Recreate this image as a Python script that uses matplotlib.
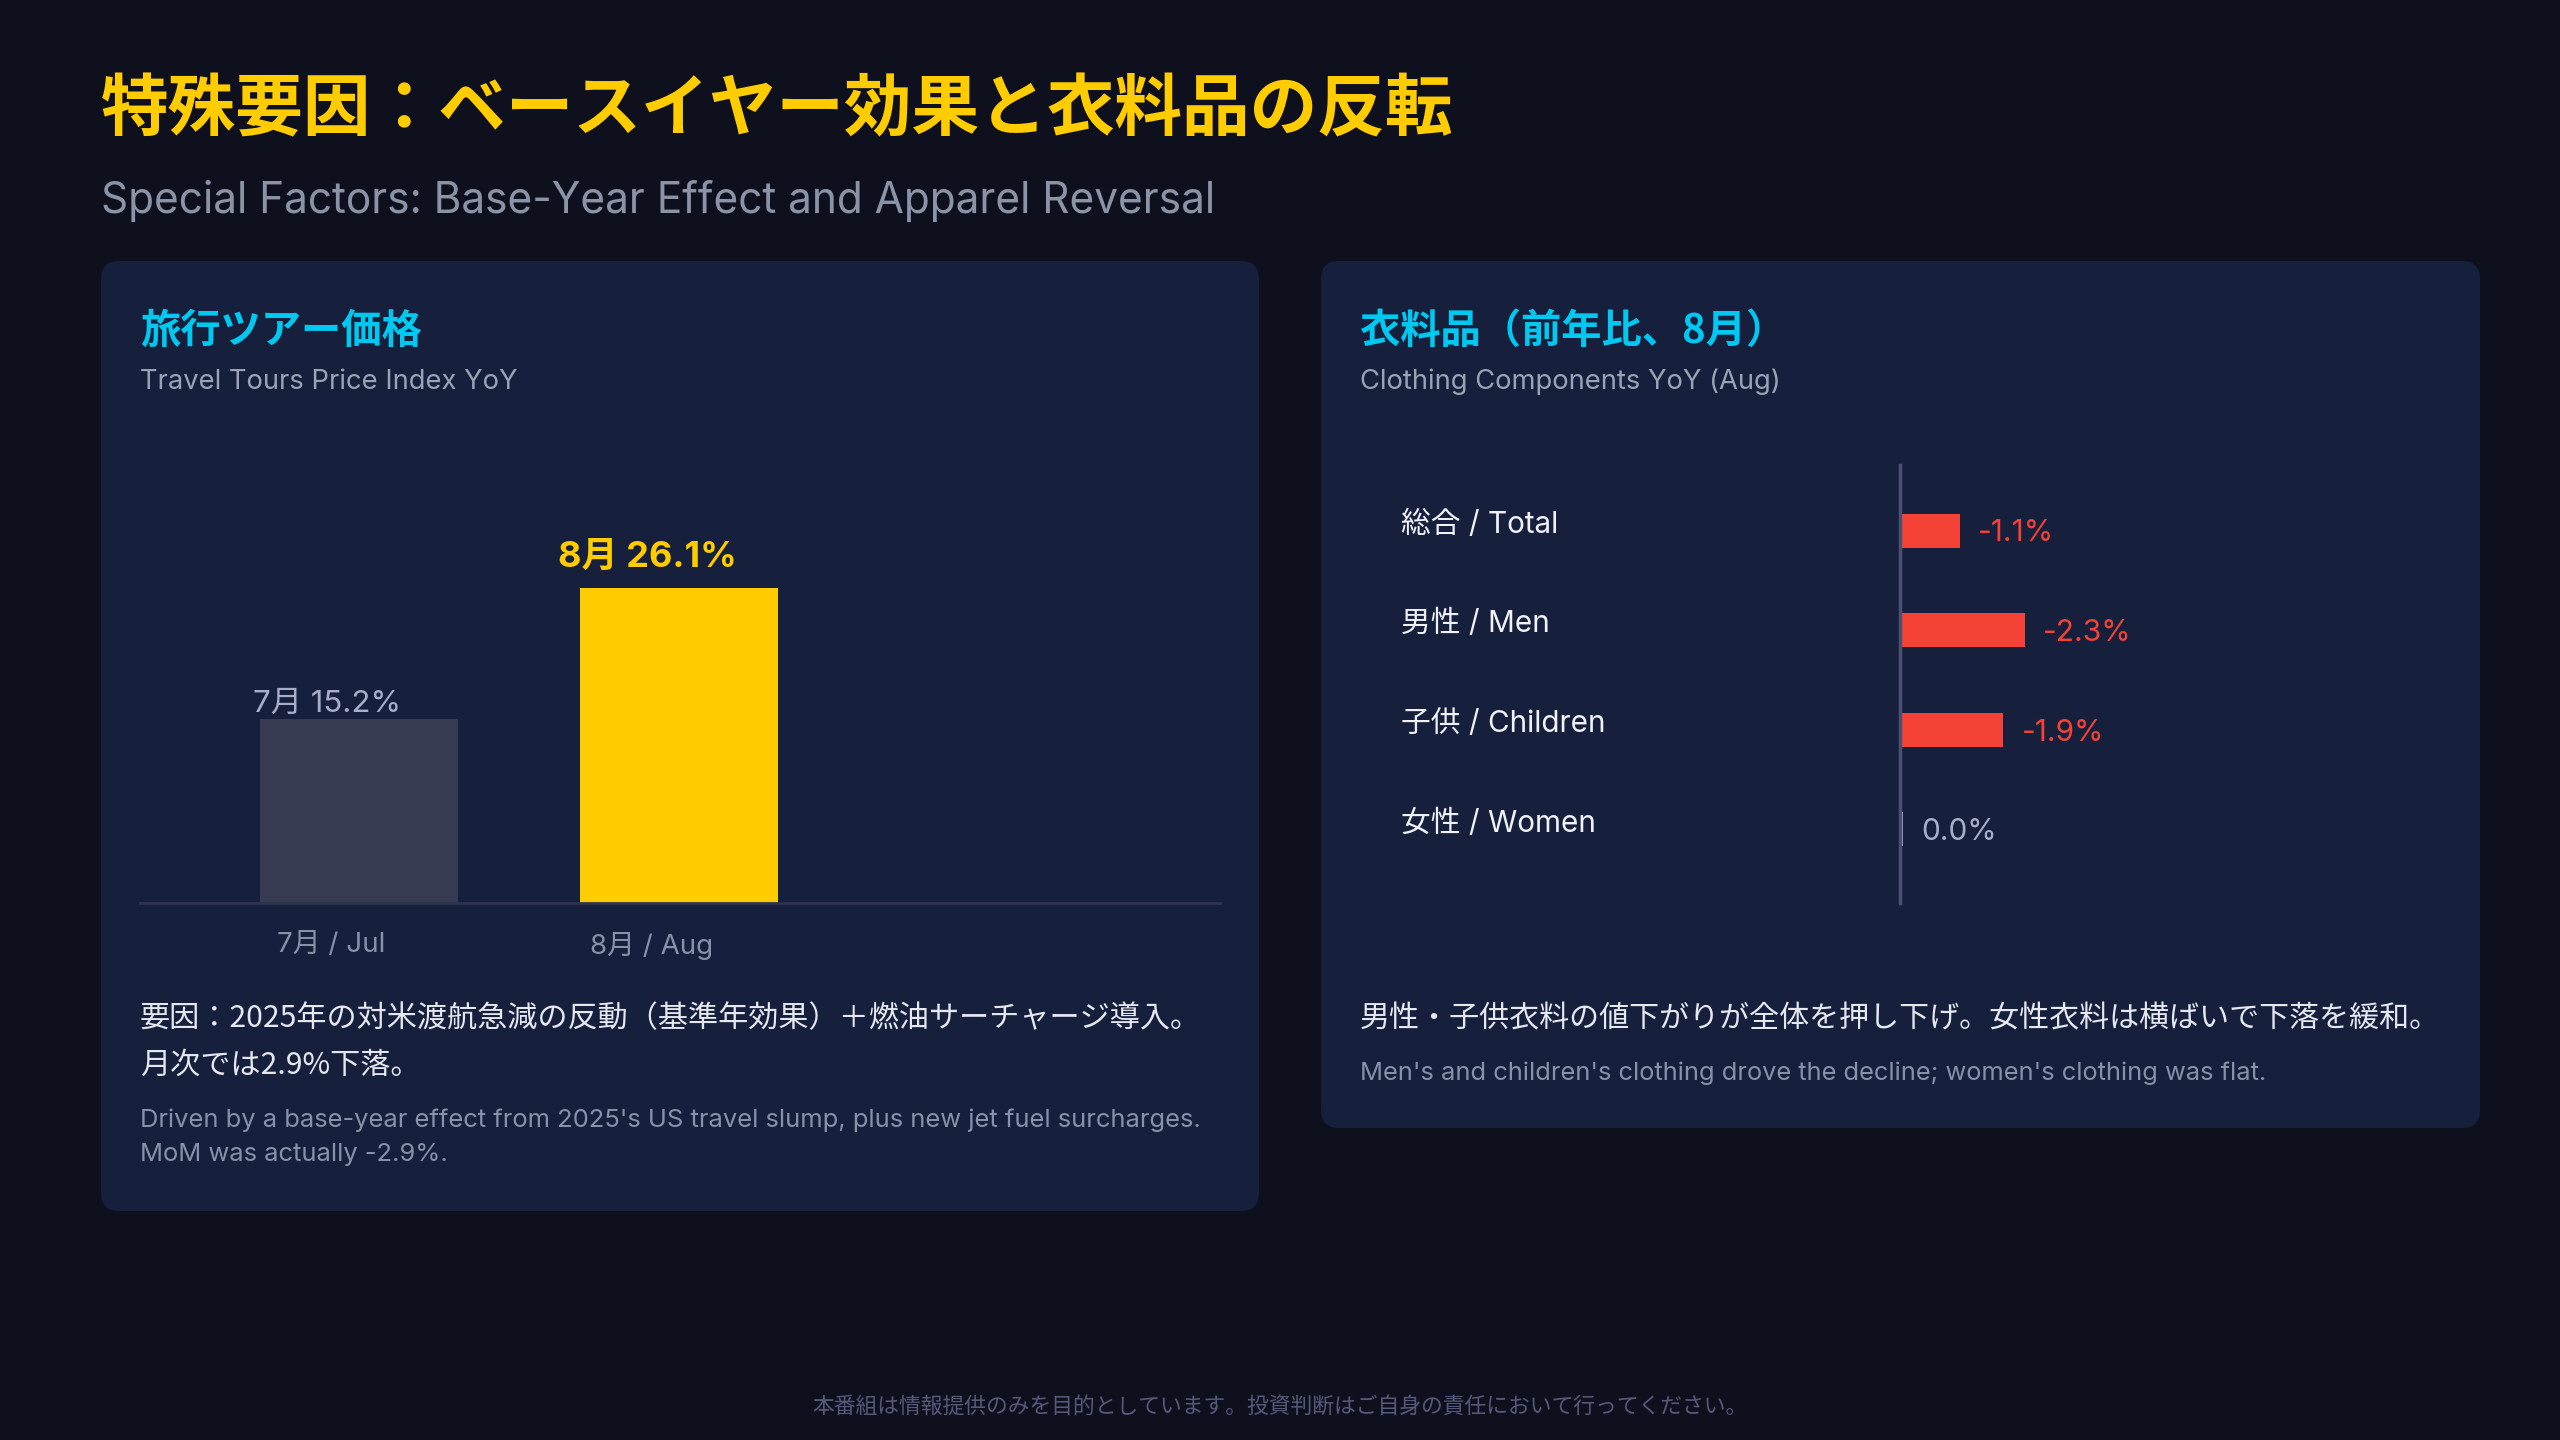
import numpy as np
import matplotlib
matplotlib.use("Agg")
import matplotlib.pyplot as plt
from matplotlib.patches import FancyBboxPatch
from matplotlib.transforms import blended_transform_factory, ScaledTranslation

plt.rcParams['font.family'] = ['Inter', 'Noto Sans CJK JP', 'DejaVu Sans']
JP = ['Noto Sans CJK JP', 'DejaVu Sans']

# data
tour_months = ['7月', '8月']
tour_ticks = ['7月 / Jul', '8月 / Aug']
tour_yoy = [15.2, 26.1]

clothing_items = ['総合 / Total', '男性 / Men', '子供 / Children', '女性 / Women']
clothing_yoy = [-1.1, -2.3, -1.9, 0.0]

# colours
BG = '#0f101e'
PANEL = '#16203c'
YELLOW = '#ffcc00'
CYAN = '#00c8f0'
RED = '#f44336'
LAVENDER = '#a8adc8'
GREY = '#8891a7'
W, H = 2560, 1440

fig = plt.figure(figsize=(25.6, 14.4), dpi=100, facecolor=BG)

# background canvas in pixel coordinates
bg = fig.add_axes([0, 0, 1, 1])
bg.set_xlim(0, W)
bg.set_ylim(H, 0)
bg.axis('off')
bg.set_facecolor(BG)

def panel(x0, y0, x1, y1):
    p = FancyBboxPatch((x0, y0), x1 - x0, y1 - y0,
                       boxstyle='round,pad=0,rounding_size=18',
                       fc=PANEL, ec='none')
    bg.add_patch(p)

panel(101, 261, 1259, 1211)
panel(1321, 261, 2480, 1128)

# header
bg.text(101, 111, '特殊要因：ベースイヤー効果と衣料品の反転', color=YELLOW,
        fontsize=48.7, fontweight='bold', va='center', family=JP)
bg.text(101, 201, 'Special Factors: Base-Year Effect and Apparel Reversal',
        color='#8a94a6', fontsize=30.5, va='center')

# panel headings
bg.text(140, 331, '旅行ツアー価格', color=CYAN, fontsize=29, fontweight='bold', va='center', family=JP)
bg.text(140, 382, 'Travel Tours Price Index YoY', color='#9aa3b5', fontsize=19.7, va='center')
bg.text(1360, 331, '衣料品（前年比、8月）', color=CYAN, fontsize=29, fontweight='bold', va='center', family=JP)
bg.text(1360, 382, 'Clothing Components YoY (Aug)', color='#9aa3b5', fontsize=19.7, va='center')

def fig_axes(x0, y0, x1, y1):
    return fig.add_axes([x0 / W, 1 - y1 / H, (x1 - x0) / W, (y1 - y0) / H])

# left: travel tours bar chart
ax1 = fig_axes(140, 420, 1220, 903)
ax1.set_facecolor('none')
x = np.arange(len(tour_yoy))
colors1 = ['#373b52', YELLOW]
ax1.bar(x, tour_yoy, width=0.62, color=colors1, zorder=2)
ax1.set_xlim(-0.684, 2.69)
ax1.set_ylim(0, 40)
for s in ['top', 'right', 'left']:
    ax1.spines[s].set_visible(False)
ax1.spines['bottom'].set_color('#2e3450')
ax1.spines['bottom'].set_linewidth(2)
ax1.set_yticks([])
ax1.set_xticks(x)
ax1.set_xticklabels(tour_ticks, color=GREY, fontsize=20)
ax1.tick_params(axis='x', length=0, pad=21)
shift = ScaledTranslation(-20 / 72, 0, fig.dpi_scale_trans)
for lab in ax1.get_xticklabels():
    lab.set_transform(lab.get_transform() + shift)
for i, (m, v) in enumerate(zip(tour_months, tour_yoy)):
    hi = i == len(tour_yoy) - 1
    ax1.annotate(f'{m} {v}%', (i, v), xytext=(-23, 10 if hi else 1),
                 textcoords='offset points', ha='center', va='bottom',
                 color=YELLOW if hi else LAVENDER,
                 fontsize=26 if hi else 22.5,
                 fontweight='bold' if hi else 'normal')

bg.text(140, 1019, '要因：2025年の対米渡航急減の反動（基準年効果）＋燃油サーチャージ導入。',
        color='#e6e8f0', fontsize=21.7, va='center', family=JP)
bg.text(140, 1065, '月次では2.9%下落。', color='#e6e8f0', fontsize=21.7, va='center', family=JP)
bg.text(140, 1120, "Driven by a base-year effect from 2025's US travel slump, plus new jet fuel surcharges.",
        color=GREY, fontsize=18.4, va='center')
bg.text(140, 1154, 'MoM was actually -2.9%.', color=GREY, fontsize=18.4, va='center')

# right: clothing horizontal bars
ax2 = fig_axes(1900, 465, 2440, 903)
ax2.set_facecolor('none')
y = np.arange(len(clothing_yoy))
vals = np.array(clothing_yoy)
mag = np.abs(vals)
colors2 = [RED if v < 0 else LAVENDER for v in vals]
ax2.barh(y, np.maximum(mag, 0.06), height=0.34, color=colors2, zorder=2)
ax2.set_xlim(0, 9.93)
ax2.set_ylim(3.74, -0.66)
for s in ['top', 'right', 'bottom']:
    ax2.spines[s].set_visible(False)
ax2.spines['left'].set_color('#4a5070')
ax2.spines['left'].set_linewidth(2.5)
ax2.set_xticks([])
ax2.set_yticks([])
lab_tr = blended_transform_factory(bg.transData, ax2.transData)
for i, (name, v) in enumerate(zip(clothing_items, vals)):
    ax2.text(1401, i - 0.06, name, transform=lab_tr, color='#f0f2f8',
             fontsize=21.4, va='center', ha='left')
    ax2.annotate(f'{v:.1f}%', (max(abs(v), 0.06), i), xytext=(13, -2),
                 textcoords='offset points', ha='left', va='center',
                 color=RED if v < 0 else LAVENDER, fontsize=21.5)

bg.text(1360, 1019, '男性・子供衣料の値下がりが全体を押し下げ。女性衣料は横ばいで下落を緩和。',
        color='#e6e8f0', fontsize=21.6, va='center', family=JP)
bg.text(1360, 1073, "Men's and children's clothing drove the decline; women's clothing was flat.",
        color=GREY, fontsize=18.3, va='center')

# footer
bg.text(W / 2, 1407, '本番組は情報提供のみを目的としています。投資判断はご自身の責任において行ってください。',
        color='#55597a', fontsize=15.7, ha='center', va='center', family=JP)

fig.savefig('out.png', dpi=100, facecolor=BG)
